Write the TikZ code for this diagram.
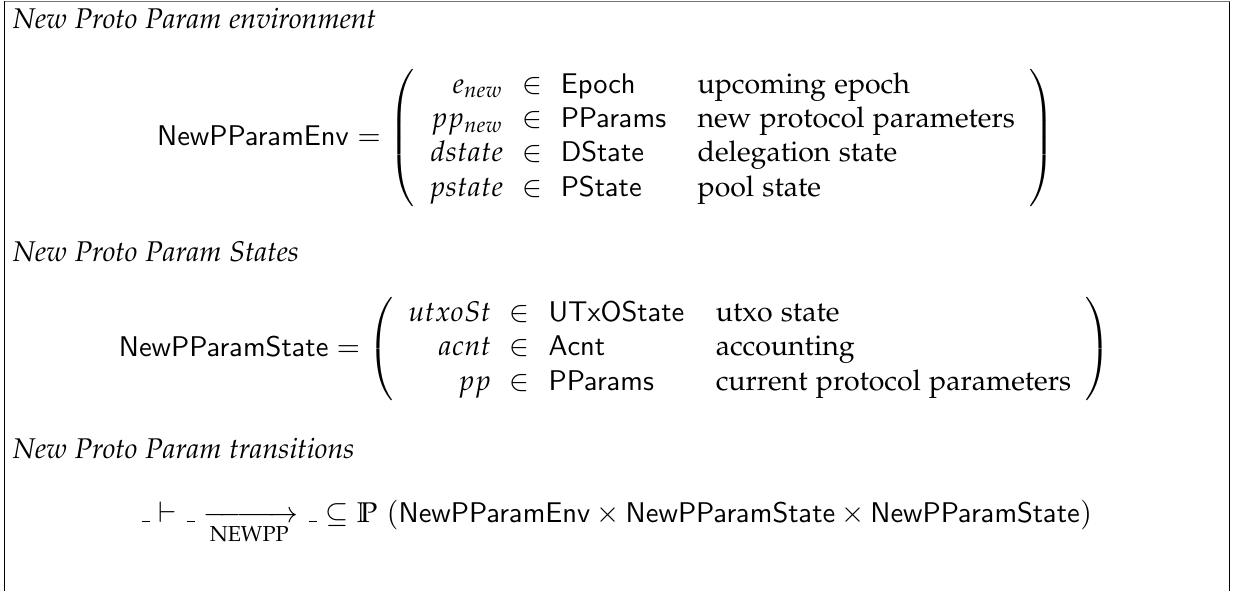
\documentclass[tikz,border=0pt]{standalone}
\usepackage[OT1]{fontenc}
\usepackage[sc]{mathpazo}
\usepackage{amsmath,amssymb}
\usepackage{array}

\newcommand{\tyname}[1]{\mathsf{#1}}
% record layout: variable, membership, type, description
\newenvironment{recordrows}
  {\begin{array}{r@{\hspace{6.5pt}\in\hspace{6.5pt}}l@{\hspace{11pt}}l}}
  {\end{array}}

\tikzset{
  heading/.style={anchor=base west, font=\itshape},
  equation/.style={anchor=center},
  framestroke/.style={line width=0.35pt, draw=black},
}

\begin{document}
\begin{tikzpicture}[x=0.35088pt, y=-0.35088pt,
  every node/.style={inner sep=0pt, outer sep=0pt}]
  \useasboundingbox (0,0) rectangle (1234,591);

  % open frame: top and both sides
  \coordinate (fbl) at (4.5,591);
  \coordinate (ftl) at (4.5,1.5);
  \coordinate (ftr) at (1229.5,1.5);
  \coordinate (fbr) at (1229.5,591);
  \draw[framestroke] (fbl) -- (ftl);
  \draw[framestroke] (fbr) -- (ftr);
  \draw[line width=0.5pt, draw=black!55] (ftl) -- (ftr);

  % ---- environment ----
  \node[heading] (h1) at (13,29) {New Proto Param environment};
  \node[equation] (envEq) at (606,138) {$\displaystyle
    \tyname{NewPParamEnv} =
    \left(\begin{recordrows}
      e_{new}  & \tyname{Epoch}   & \text{upcoming epoch}\\
      pp_{new} & \tyname{PParams} & \text{new protocol parameters}\\
      dstate   & \tyname{DState}  & \text{delegation state}\\
      pstate   & \tyname{PState}  & \text{pool state}
    \end{recordrows}\right)$};

  % ---- states ----
  \node[heading] (h2) at (13,262) {New Proto Param States};
  \node[equation] (stEq) at (615,349) {$\displaystyle
    \tyname{NewPParamState} =
    \left(\begin{recordrows}
      utxoSt & \tyname{UTxOState} & \text{utxo state}\\
      acnt   & \tyname{Acnt}      & \text{accounting}\\
      pp     & \tyname{PParams}   & \text{current protocol parameters}
    \end{recordrows}\right)$};

  % ---- transitions ----
  \node[heading] (h3) at (13,459) {New Proto Param transitions};
  \node[anchor=base west] (trans) at (140,522)
    {$\_ \vdash \_ \xrightarrow[\text{NEWPP}]{} \_ \subseteq \mathbb{P}~(\tyname{NewPParamEnv} \times \tyname{NewPParamState} \times \tyname{NewPParamState})$};
\end{tikzpicture}
\end{document}
